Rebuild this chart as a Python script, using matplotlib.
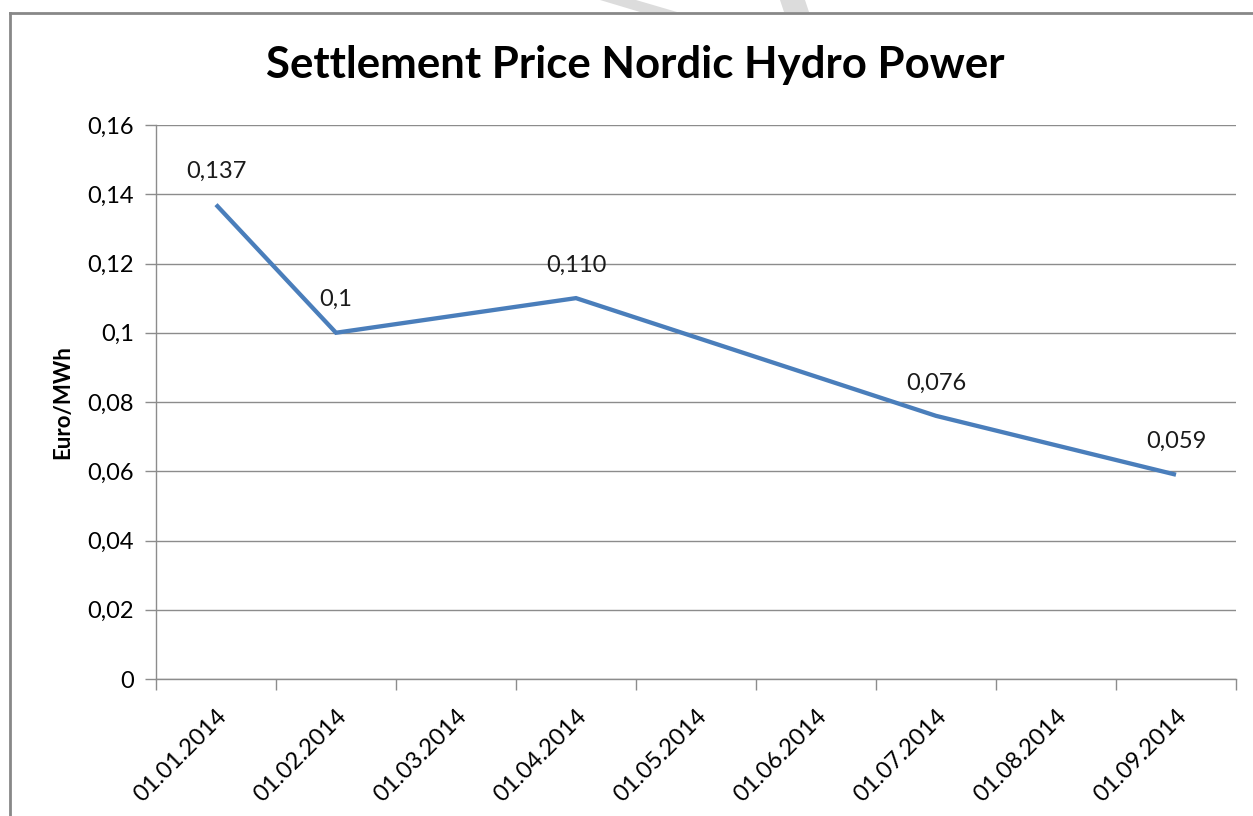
import numpy as np
import matplotlib.pyplot as plt
from matplotlib.lines import Line2D
from matplotlib.patches import Polygon
from matplotlib.ticker import FuncFormatter

categories = ["01.01.2014", "01.02.2014", "01.03.2014", "01.04.2014", "01.05.2014",
              "01.06.2014", "01.07.2014", "01.08.2014", "01.09.2014"]
point_dates = ["01.01.2014", "01.02.2014", "01.04.2014", "01.07.2014", "01.09.2014"]
prices = [0.137, 0.1, 0.110, 0.076, 0.059]
price_labels = ["0,137", "0,1", "0,110", "0,076", "0,059"]
yticks = [0, 0.02, 0.04, 0.06, 0.08, 0.1, 0.12, 0.14, 0.16]

FONT = "Lato"
W, H = 1253, 816

fig = plt.figure(figsize=(W / 100, H / 100), dpi=100)
ax = fig.add_axes([156 / W, 1 - 679 / H, 1080 / W, 554 / H])

xpos = [categories.index(d) for d in point_dates]
ax.plot(xpos, prices, color="#4A7EBB", lw=3.1, solid_capstyle="butt", solid_joinstyle="miter")
for x, y, lab in zip(xpos, prices, price_labels):
    ax.annotate(lab, (x, y), xytext=(0, 33), textcoords="offset pixels",
                ha="center", va="center", fontsize=17, family=FONT, color="#1a1a1a")

ax.set_xlim(-0.5, len(categories) - 0.5)
ax.set_ylim(0, 0.16)
ax.set_yticks(yticks)
ax.yaxis.set_major_formatter(FuncFormatter(lambda v, p: f"{v:g}".replace(".", ",")))
ax.grid(axis="y", color="#8c8c8c", lw=1)
ax.set_axisbelow(True)

ax.set_xticks(np.arange(-0.5, len(categories)))
ax.set_xticklabels([])
ax.set_xticks(range(len(categories)), minor=True)
ax.set_xticklabels(categories, minor=True, rotation=45, ha="right",
                   rotation_mode="anchor", fontsize=17, family=FONT)
ax.tick_params(axis="x", which="major", length=8, color="#8c8c8c", width=1)
ax.tick_params(axis="x", which="minor", length=0, pad=19)
ax.tick_params(axis="y", length=8, color="#8c8c8c", width=1, pad=8, labelsize=17)
for lab in ax.get_yticklabels():
    lab.set_family(FONT)

for s in ["top", "right"]:
    ax.spines[s].set_visible(False)
for s in ["left", "bottom"]:
    ax.spines[s].set_color("#8c8c8c")
    ax.spines[s].set_linewidth(1)

ax.set_ylabel("Euro/MWh", fontsize=16, fontweight="bold", family=FONT, labelpad=10)

fig.text(635 / W, 1 - 65 / H, "Settlement Price Nordic Hydro Power", ha="center", va="center",
         fontsize=31.5, fontweight="bold", family=FONT)

# page border and watermark bits
fig.add_artist(Line2D([10 / W, 1], [1 - 13 / H, 1 - 13 / H], color="#888888", lw=2))
fig.add_artist(Line2D([10 / W, 10 / W], [0, 1 - 13 / H], color="#888888", lw=2))
for pts in [[(600, 0), (636, 0), (677, 12), (640, 12)],
            [(780, 0), (805, 0), (809, 12), (784, 12)]]:
    fig.add_artist(Polygon([(x / W, 1 - y / H) for x, y in pts], closed=True,
                           facecolor="#dcdcdc", edgecolor="none", transform=fig.transFigure))

fig.savefig("out.png", dpi=100)
